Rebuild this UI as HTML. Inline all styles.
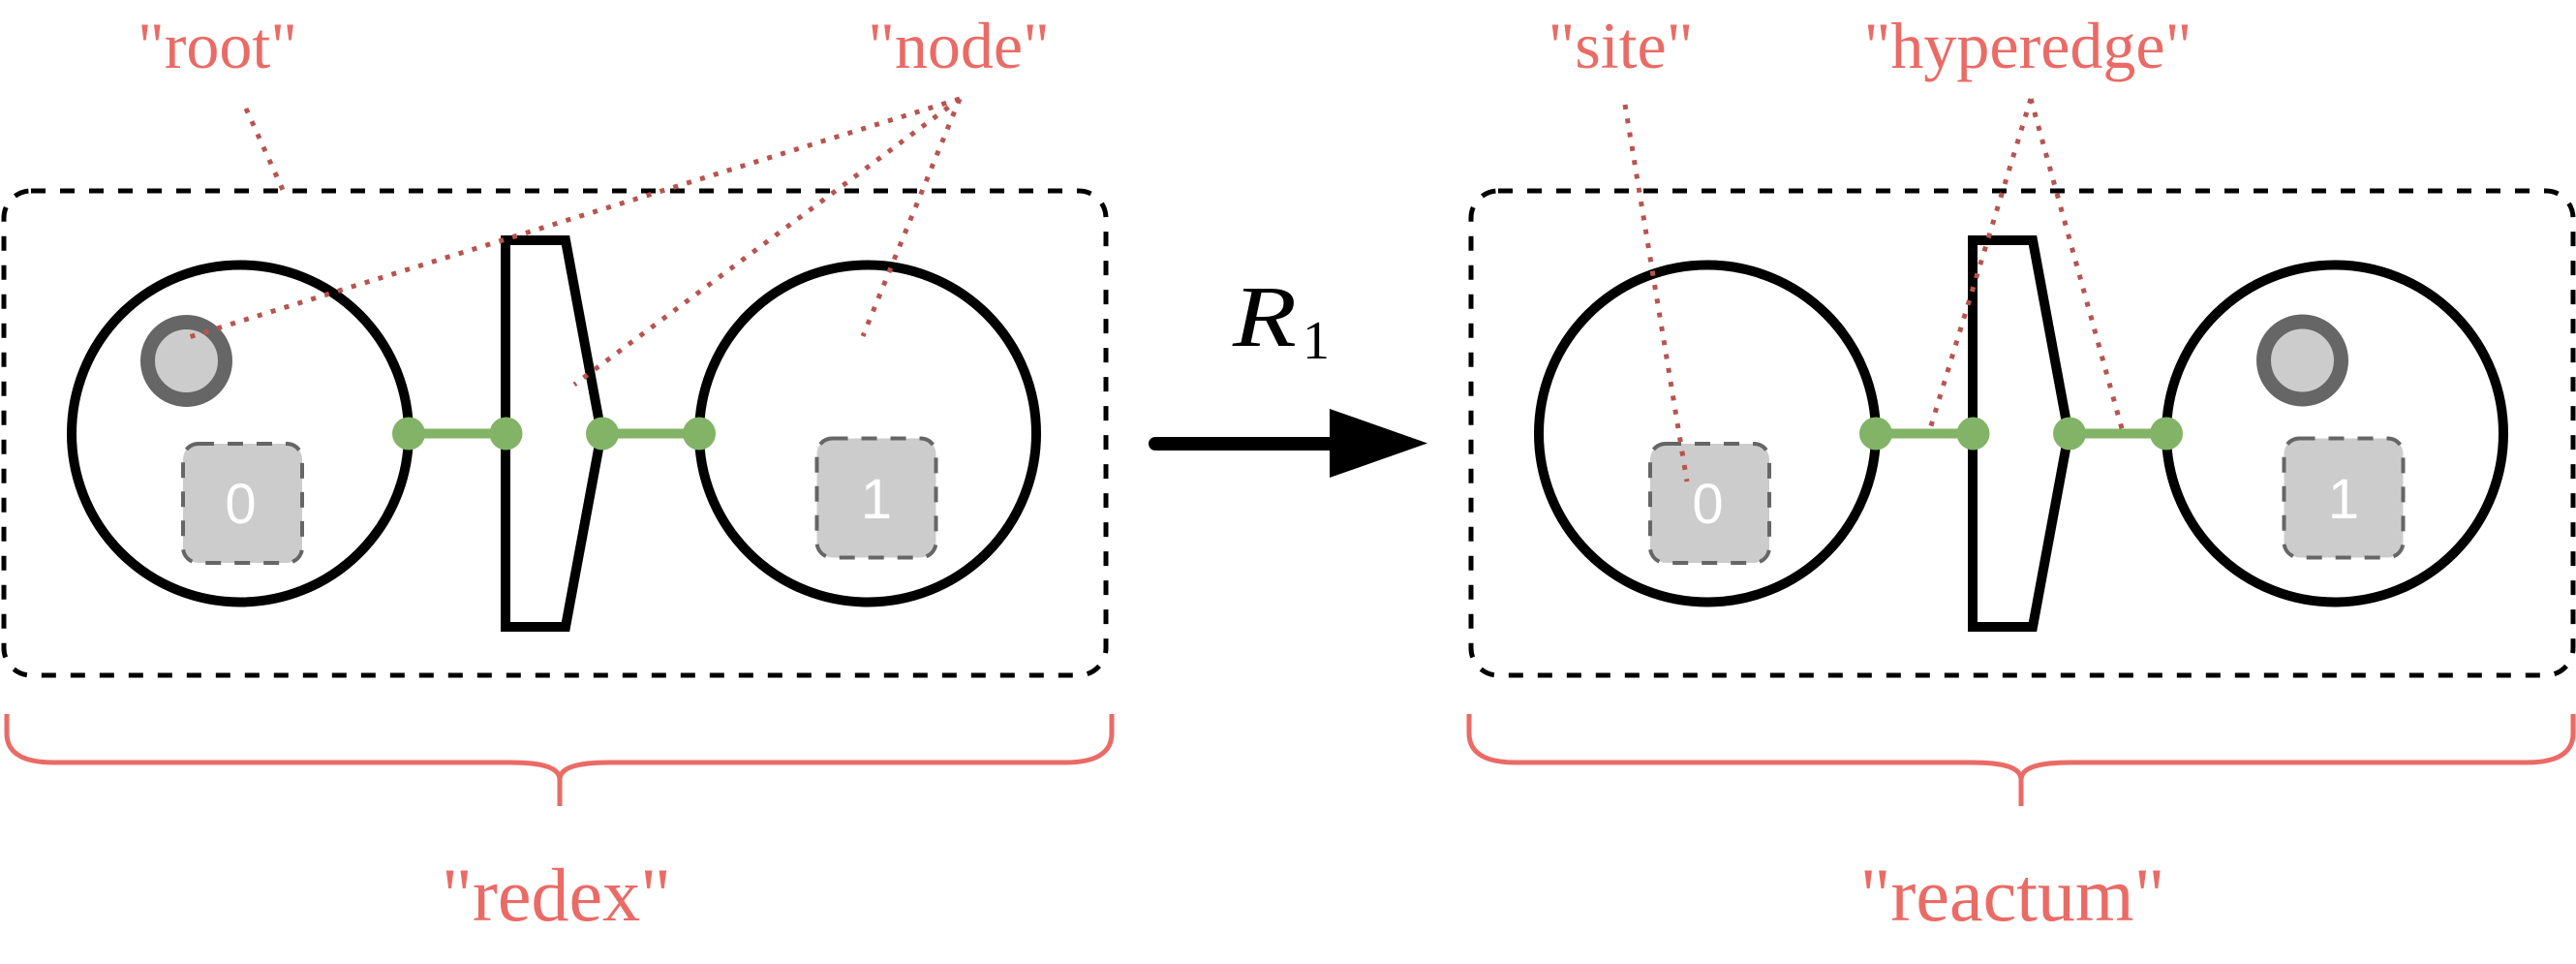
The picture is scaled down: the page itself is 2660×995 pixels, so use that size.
<!DOCTYPE html>
<html><head><meta charset="utf-8"><style>
html,body{margin:0;padding:0;background:#fff;}
svg{display:block;}
.lbl{font-family:"Liberation Serif","Times New Roman",serif;fill:#ea6b66;}
.dig{font-family:"Liberation Sans",Arial,sans-serif;fill:#fff;}
.math{font-family:"Liberation Serif","Times New Roman",serif;fill:#000;}
</style></head><body>
<svg width="2660" height="995" viewBox="0 0 2660 995" xmlns="http://www.w3.org/2000/svg">

<!-- LEFT DIAGRAM (redex) -->
<rect x="4" y="197" width="1138" height="500" rx="28" ry="28" fill="none" stroke="#000" stroke-width="5" stroke-dasharray="15 15"/>
<circle cx="248" cy="447.5" r="174" fill="#fff" stroke="#000" stroke-width="10"/>
<circle cx="896" cy="447.5" r="174" fill="#fff" stroke="#000" stroke-width="10"/>
<path d="M522 248 L584 248 L621 447.5 L584 647 L522 647 Z" fill="#fff" stroke="#000" stroke-width="10" stroke-linejoin="miter"/>
<line x1="422" y1="447.5" x2="522.5" y2="447.5" stroke="#82b366" stroke-width="10"/>
<line x1="622" y1="447.5" x2="722" y2="447.5" stroke="#82b366" stroke-width="10"/>
<circle cx="422" cy="447.5" r="17" fill="#82b366"/>
<circle cx="522.5" cy="447.5" r="17" fill="#82b366"/>
<circle cx="622" cy="447.5" r="17" fill="#82b366"/>
<circle cx="722" cy="447.5" r="17" fill="#82b366"/>
<circle cx="192.5" cy="372.5" r="40" fill="#ccc" stroke="#666" stroke-width="15"/>
<rect x="189" y="458" width="123" height="123" rx="16" ry="16" fill="#ccc" stroke="#666" stroke-width="4" stroke-dasharray="16 14"/>
<text class="dig" x="248.5" y="540" font-size="58" text-anchor="middle">0</text>
<rect x="843.5" y="452.5" width="123" height="123" rx="16" ry="16" fill="#ccc" stroke="#666" stroke-width="4" stroke-dasharray="16 14"/>
<text class="dig" x="905" y="535" font-size="58" text-anchor="middle">1</text>

<!-- RIGHT DIAGRAM (reactum) -->
<rect x="1519" y="197" width="1138" height="500" rx="28" ry="28" fill="none" stroke="#000" stroke-width="5" stroke-dasharray="15 15"/>
<circle cx="1763" cy="447.5" r="174" fill="#fff" stroke="#000" stroke-width="10"/>
<circle cx="2411" cy="447.5" r="174" fill="#fff" stroke="#000" stroke-width="10"/>
<path d="M2037 248 L2099 248 L2136 447.5 L2099 647 L2037 647 Z" fill="#fff" stroke="#000" stroke-width="10" stroke-linejoin="miter"/>
<line x1="1937" y1="447.5" x2="2037.5" y2="447.5" stroke="#82b366" stroke-width="10"/>
<line x1="2137" y1="447.5" x2="2237" y2="447.5" stroke="#82b366" stroke-width="10"/>
<circle cx="1937" cy="447.5" r="17" fill="#82b366"/>
<circle cx="2037.5" cy="447.5" r="17" fill="#82b366"/>
<circle cx="2137" cy="447.5" r="17" fill="#82b366"/>
<circle cx="2237" cy="447.5" r="17" fill="#82b366"/>
<circle cx="2377.5" cy="372" r="40" fill="#ccc" stroke="#666" stroke-width="15"/>
<rect x="1704" y="458" width="123" height="123" rx="16" ry="16" fill="#ccc" stroke="#666" stroke-width="4" stroke-dasharray="16 14"/>
<text class="dig" x="1763.5" y="540" font-size="58" text-anchor="middle">0</text>
<rect x="2358.5" y="452.5" width="123" height="123" rx="16" ry="16" fill="#ccc" stroke="#666" stroke-width="4" stroke-dasharray="16 14"/>
<text class="dig" x="2420" y="535" font-size="58" text-anchor="middle">1</text>

<!-- ARROW -->
<line x1="1193" y1="458" x2="1380" y2="458" stroke="#000" stroke-width="14" stroke-linecap="round"/>
<polygon points="1373,422 1474,457.5 1373,493" fill="#000"/>
<text class="math" x="1273" y="357" font-size="90" font-style="italic" textLength="66" lengthAdjust="spacingAndGlyphs">R</text>
<text class="math" x="1345" y="370" font-size="56">1</text>

<!-- DOTTED ANNOTATION LINES -->
<g stroke="#b85450" stroke-width="5" stroke-dasharray="5 9.5" fill="none">
  <line x1="254" y1="112" x2="292" y2="196"/>
  <line x1="991" y1="102" x2="195" y2="348"/>
  <line x1="991" y1="102" x2="593" y2="397"/>
  <line x1="991" y1="102" x2="891" y2="347"/>
  <line x1="1678" y1="108" x2="1742" y2="497"/>
  <line x1="2097" y1="102" x2="1992" y2="446"/>
  <line x1="2097" y1="102" x2="2192" y2="446"/>
</g>

<!-- BRACES -->
<g stroke="#ea6b66" stroke-width="5" fill="none" stroke-linecap="butt">
  <path d="M7 737 L7 757 C7 778 25 787 55 787 L526 787 C560 787 578 792 578 805 C578 792 596 787 630 787 L1100 787 C1130 787 1148 778 1148 757 L1148 737"/>
  <line x1="578" y1="798" x2="578" y2="832"/>
  <path d="M1517 737 L1517 757 C1517 778 1535 787 1565 787 L2035 787 C2069 787 2087 792 2087 805 C2087 792 2105 787 2139 787 L2609 787 C2639 787 2657 778 2657 757 L2657 737"/>
  <line x1="2087" y1="798" x2="2087" y2="832"/>
</g>

<!-- LABELS -->
<text class="lbl" x="224.5" y="70" font-size="68" text-anchor="middle">"root"</text>
<text class="lbl" x="990" y="70" font-size="68" text-anchor="middle">"node"</text>
<text class="lbl" x="1673.5" y="70" font-size="68" text-anchor="middle">"site"</text>
<text class="lbl" x="2094" y="70" font-size="68" text-anchor="middle">"hyperedge"</text>
<text class="lbl" x="574.5" y="950" font-size="78" text-anchor="middle">"redex"</text>
<text class="lbl" x="2078" y="950" font-size="78" text-anchor="middle">"reactum"</text>
</svg>
</body></html>
